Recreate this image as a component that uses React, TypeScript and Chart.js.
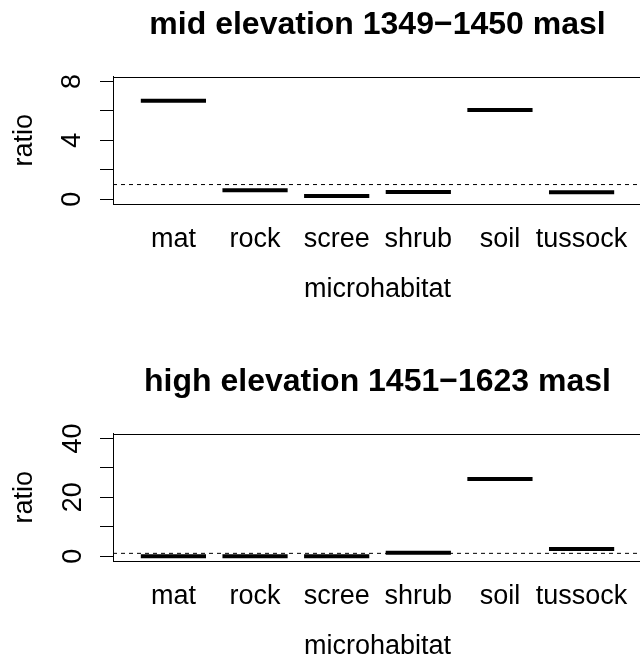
import React, { useEffect, useRef } from "react";
import { Chart, registerables } from "chart.js";

Chart.register(...registerables);

// ---- data ----
const CATEGORIES = ["mat", "rock", "scree", "shrub", "soil", "tussock"];
const MID_VALUES = [6.69, 0.61, 0.23, 0.5, 6.06, 0.47];
const HIGH_VALUES = [0, 0, 0, 1.23, 26.25, 2.49];
const MID_TITLE = "mid elevation 1349\u22121450 masl";
const HIGH_TITLE = "high elevation 1451\u22121623 masl";
const MID_Y_TICKS = [0, 2, 4, 6, 8];
const MID_Y_LABELS = [0, 4, 8];
const HIGH_Y_TICKS = [0, 10, 20, 30, 40];
const HIGH_Y_LABELS = [0, 20, 40];
const MID_YLIM = [0, 8];
const HIGH_YLIM = [0, 40];
const REFERENCE_RATIO = 1;
const X_LABEL = "microhabitat";
const Y_LABEL = "ratio";

const FONT = "'Liberation Sans', Arial, Helvetica, sans-serif";
const CANVAS_W = 648;
const CANVAS_H = 357;
const AXIS_FONT = 27;
const TITLE_FONT = 32;

Chart.defaults.color = "#000";
Chart.defaults.font.family = FONT;

const boxPlugin = {
  id: "rbox",
  afterDatasetsDraw(chart: any) {
    const { ctx, chartArea } = chart;
    const { left, top, right, bottom } = chartArea;
    ctx.save();
    ctx.strokeStyle = "#000";
    ctx.lineWidth = 1;
    ctx.strokeRect(Math.round(left) + 0.5, Math.round(top) + 0.5, Math.round(right - left), Math.round(bottom - top));
    ctx.restore();
  },
};

type PanelProps = {
  title: string;
  values: number[];
  yTicks: number[];
  yLabels: number[];
  ylim: number[];
  top: number;
  yTickPadding: number;
};

function Panel({ title, values, yTicks, yLabels, ylim, top, yTickPadding }: PanelProps) {
  const ref = useRef<HTMLCanvasElement | null>(null);

  useEffect(() => {
    if (!ref.current) return;
    const n = CATEGORIES.length;
    const xlo = 0.5, xhi = n + 0.5;
    const xext = (xhi - xlo) * 0.04;
    const yext = (ylim[1] - ylim[0]) * 0.04;
    const xmin = xlo - xext;
    const xmax = xhi + xext;
    const axisFont = { size: AXIS_FONT, family: FONT, lineHeight: 1.2 };

    const chart = new Chart(ref.current, {
      type: "scatter",
      data: {
        datasets: [
          {
            type: "line",
            data: [
              { x: xmin, y: REFERENCE_RATIO },
              { x: xmax, y: REFERENCE_RATIO },
            ],
            borderColor: "#000",
            borderWidth: 1,
            borderDash: [4, 4],
            pointRadius: 0,
            showLine: true,
            fill: false,
          } as any,
          {
            data: values.map((v, i) => ({ x: i + 1, y: v })),
            pointStyle: "line",
            pointRadius: 32.6,
            pointHoverRadius: 32.6,
            pointBorderWidth: 4,
            pointHoverBorderWidth: 4,
            borderColor: "#000",
            backgroundColor: "#000",
          } as any,
        ],
      },
      options: {
        animation: false,
        responsive: false,
        events: [],
        layout: { autoPadding: false, padding: { left: 0, right: 6, top: 0, bottom: 51 } },
        plugins: {
          legend: { display: false },
          tooltip: { enabled: false },
          title: {
            display: true,
            text: title,
            fullSize: false,
            color: "#000",
            font: { size: TITLE_FONT, weight: "bold", family: FONT, lineHeight: 1.2 },
            padding: { top: 5.6, bottom: 32.7 },
          },
        },
        scales: {
          x: {
            type: "linear",
            min: xmin,
            max: xmax,
            afterBuildTicks: (scale: any) => {
              scale.ticks = CATEGORIES.map((_, i) => ({ value: i + 1 }));
            },
            afterFit: (scale: any) => {
              scale.height = 102;
            },
            ticks: {
              autoSkip: false,
              maxRotation: 0,
              minRotation: 0,
              padding: 19.6,
              color: "#000",
              font: axisFont,
              callback: (v: any) => CATEGORIES[Math.round(Number(v)) - 1] ?? "",
            },
            grid: { display: true, drawOnChartArea: false, drawTicks: false },
            border: { display: true, color: "#000", width: 1 },
            title: {
              display: true,
              text: X_LABEL,
              color: "#000",
              font: axisFont,
              padding: { top: 0, bottom: 0 },
            },
          },
          y: {
            type: "linear",
            min: ylim[0] - yext,
            max: ylim[1] + yext,
            afterBuildTicks: (scale: any) => {
              scale.ticks = yTicks.map((v) => ({ value: v }));
            },
            afterFit: (scale: any) => {
              scale.width = 113;
            },
            ticks: {
              autoSkip: false,
              minRotation: 90,
              maxRotation: 90,
              crossAlign: "center",
              padding: yTickPadding,
              color: "#000",
              font: axisFont,
              callback: (v: any) => (yLabels.includes(Number(v)) ? String(v) : ""),
            },
            grid: {
              display: true,
              drawOnChartArea: false,
              drawTicks: true,
              tickLength: 13,
              color: "#000",
              lineWidth: 1,
            },
            border: { display: true, color: "#000", width: 1 },
            title: {
              display: true,
              text: Y_LABEL,
              color: "#000",
              font: axisFont,
              padding: { top: 8.8, bottom: 0 },
            },
          },
        },
      } as any,
      plugins: [boxPlugin],
    });
    return () => chart.destroy();
  }, [title, values, yTicks, yLabels, ylim, yTickPadding]);

  return (
    <canvas
      ref={ref}
      width={CANVAS_W}
      height={CANVAS_H}
      style={{ position: "absolute", left: 0, top, width: CANVAS_W, height: CANVAS_H, display: "block" }}
    />
  );
}

export default function App() {
  return (
    <div
      style={{
        position: "absolute",
        left: 0,
        top: 0,
        width: 640,
        height: 657,
        overflow: "hidden",
        background: "#fff",
      }}
    >
      <Panel
        title={MID_TITLE}
        values={MID_VALUES}
        yTicks={MID_Y_TICKS}
        yLabels={MID_Y_LABELS}
        ylim={MID_YLIM}
        top={0}
        yTickPadding={19.5}
      />
      <Panel
        title={HIGH_TITLE}
        values={HIGH_VALUES}
        yTicks={HIGH_Y_TICKS}
        yLabels={HIGH_Y_LABELS}
        ylim={HIGH_YLIM}
        top={357}
        yTickPadding={11}
      />
    </div>
  );
}
